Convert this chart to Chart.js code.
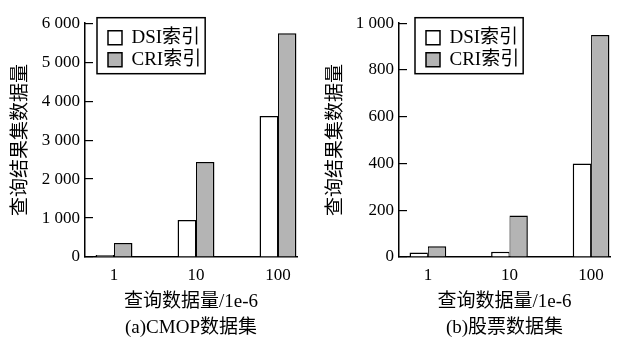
<!DOCTYPE html>
<html>
<head>
<meta charset="utf-8">
<script src="https://cdn.jsdelivr.net/npm/chart.js@4"></script>
<style>
  body { margin: 0; background: #fff; }
  .wrap { display: flex; width: 644px; height: 349px; }
  canvas { display: block; }
</style>
</head>
<body>
<div class="wrap">
  <canvas id="cmop" width="322" height="349"></canvas>
  <canvas id="stock" width="322" height="349"></canvas>
</div>
<script>
var categories = ['1', '10', '100'];
var seriesNames = ['DSI索引', 'CRI索引'];

// (a) CMOP
var cmopDsi = [50, 950, 3620];
var cmopCri = [360, 2440, 5740];

// (b) stock
var stockDsi = [19, 22, 400];
var stockCri = [46, 178, 950];

Chart.defaults.font.family = "'Liberation Serif', 'Noto Sans CJK SC', serif";
Chart.defaults.color = '#000';

// thousands with a space: 6 000
function spaced(v) {
    return String(v).replace(/\B(?=(\d{3})+(?!\d))/g, ' ');
}

// moves the legend inside the plot and draws a box round it
var legendFrame = {
    id: 'legendFrame',
    afterLayout: function (chart, args, opts) {
        var lg = chart.legend, area = chart.chartArea;
        var w = lg.width, h = lg.height;
        lg.left = area.left + opts.dx;
        lg.top = area.top + opts.dy;
        lg.right = lg.left + w;
        lg.bottom = lg.top + h;
    },
    afterDraw: function (chart) {
        var boxes = chart.legend.legendHitBoxes;
        if (!boxes || !boxes.length) return;
        var left = boxes[0].left, right = 0, top = boxes[0].top, bottom = 0;
        boxes.forEach(function (b) {
            right = Math.max(right, b.left + b.width);
            bottom = Math.max(bottom, b.top + b.height);
        });
        var ctx = chart.ctx;
        ctx.save();
        ctx.strokeStyle = '#000';
        ctx.lineWidth = 1.5;
        ctx.strokeRect(left - 11, top - 10.5, right - left + 15, bottom - top + 15);
        ctx.restore();
    }
};

function points(values) {
    return values.map(function (v, i) { return { x: i, y: v }; });
}

var makeChart = function (id, dsi, cri, cfg) {
    return new Chart(id, {
        type: 'bar',
        data: {
            datasets: [{
                label: seriesNames[0],
                data: points(dsi),
                backgroundColor: '#ffffff',
                borderColor: '#000',
                borderWidth: { top: 1.5, left: 1.5, right: 1, bottom: 0 }
            }, {
                label: seriesNames[1],
                data: points(cri),
                backgroundColor: '#b4b4b4',
                borderColor: '#000',
                borderWidth: { top: 1.5, left: 1, right: 1.5, bottom: 0 }
            }]
        },
        options: {
            responsive: false,
            animation: false,
            categoryPercentage: 0.45,
            barPercentage: 1,
            layout: {
                padding: { left: 0, right: cfg.padRight, top: 12, bottom: 0 }
            },
            scales: {
                x: {
                    type: 'linear',
                    offset: false,
                    bounds: 'data',
                    min: -0.354,
                    max: 2.232,
                    afterBuildTicks: function (s) {
                        s.ticks = categories.map(function (c, i) { return { value: i }; });
                    },
                    afterFit: function (s) { s.height = 92; },
                    ticks: {
                        callback: function (v) { return categories[v]; },
                        padding: 0,
                        maxRotation: 0,
                        font: { size: 17 }
                    },
                    grid: { display: false, offset: false },
                    border: { color: '#000', width: 1.5 },
                    title: {
                        display: true,
                        text: ['查询数据量/1e-6', cfg.caption],
                        font: { size: 19, lineHeight: 1.42 },
                        padding: { top: 0, bottom: 7 }
                    }
                },
                y: {
                    min: 0,
                    max: cfg.yMax,
                    afterFit: function (s) { s.width = cfg.axisWidth; },
                    ticks: {
                        stepSize: cfg.yStep,
                        padding: 13,
                        font: { size: 17 },
                        callback: spaced
                    },
                    grid: {
                        drawOnChartArea: false,
                        drawTicks: true,
                        tickLength: -8,
                        color: '#000',
                        lineWidth: 1.2
                    },
                    border: { color: '#000', width: 1.5 },
                    title: {
                        display: true,
                        text: '查询结果集数据量',
                        font: { size: 19 },
                        padding: { top: cfg.titlePad, bottom: 0 }
                    }
                }
            },
            plugins: {
                tooltip: { enabled: false },
                legend: {
                    position: 'chartArea',
                    align: 'start',
                    labels: {
                        boxWidth: 14,
                        boxHeight: 14,
                        padding: 3,
                        font: { size: 19 },
                        generateLabels: function (chart) {
                            var items = Chart.defaults.plugins.legend.labels.generateLabels(chart);
                            items.forEach(function (it) { it.lineWidth = 1.5; });
                            return items;
                        }
                    }
                },
                legendFrame: { dx: cfg.legendDx, dy: 2 }
            }
        },
        plugins: [legendFrame]
    });
};

makeChart('cmop', cmopDsi, cmopCri, {
    yMax: 6000, yStep: 1000, caption: '(a)CMOP数据集',
    axisWidth: 85, padRight: 25, titlePad: 10, legendDx: 20
});
makeChart('stock', stockDsi, stockCri, {
    yMax: 1000, yStep: 200, caption: '(b)股票数据集',
    axisWidth: 77, padRight: 34, titlePad: 2.5, legendDx: 24
});
</script>
</body>
</html>
